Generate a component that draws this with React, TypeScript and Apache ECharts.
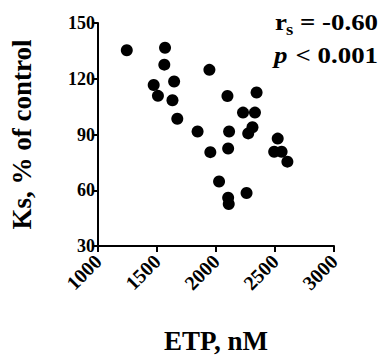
import React, { useEffect, useRef } from "react";
import * as echarts from "echarts";

const etp = [1244, 1568, 1562, 1944, 1472, 1645, 1508, 1631, 2097, 2344, 1672, 2229, 2330, 1844, 2111, 2309, 2273, 1952, 2103, 2523, 2493, 2556, 2605, 2026, 2259, 2103, 2108];
const ks = [135.3, 136.7, 127.6, 124.8, 116.6, 118.5, 110.8, 108.4, 110.7, 112.6, 98.5, 101.8, 101.8, 91.6, 91.6, 93.9, 90.6, 80.5, 82.5, 87.8, 80.7, 80.7, 75.4, 64.7, 58.5, 56.0, 52.6];
const xTicks = [1000, 1500, 2000, 2500, 3000];
const yTicks = [30, 60, 90, 120, 150];
const statR = "= -0.60";
const statP = "< 0.001";

const FONT = "'Liberation Serif', 'Times New Roman', serif";

export default function App() {
  const ref = useRef<HTMLDivElement>(null);
  useEffect(() => {
    if (!ref.current) return;
    const chart = echarts.init(ref.current, null, { renderer: "svg" });
    const axisCommon = {
      axisLine: { show: true, lineStyle: { color: "#000", width: 2 } },
      axisTick: { show: true, inside: false, length: 6, lineStyle: { color: "#000", width: 2 } },
      splitLine: { show: false },
      nameTextStyle: { fontFamily: FONT, fontWeight: "bold", fontSize: 27, color: "#000" },
    };
    chart.setOption({
      animation: false,
      grid: { left: 91, right: 49, top: 23, bottom: 93, containLabel: false },
      xAxis: {
        type: "value",
        min: xTicks[0],
        max: xTicks[xTicks.length - 1],
        interval: 500,
        name: "ETP, nM",
        nameLocation: "middle",
        nameGap: 81,
        ...axisCommon,
        axisLabel: {
          rotate: 45,
          margin: 12,
          formatter: (v: number) => String(v),
          fontFamily: FONT,
          fontWeight: "bold",
          fontSize: 20,
          color: "#000",
        },
      },
      yAxis: {
        type: "value",
        min: yTicks[0],
        max: yTicks[yTicks.length - 1],
        interval: 30,
        name: "Ks, % of control",
        nameLocation: "middle",
        nameGap: 63,
        ...axisCommon,
        axisLabel: {
          margin: 3,
          fontFamily: FONT,
          fontWeight: "bold",
          fontSize: 18,
          color: "#000",
        },
      },
      series: [
        {
          type: "scatter",
          symbol: "circle",
          symbolSize: 12,
          itemStyle: { color: "#000", opacity: 1 },
          data: etp.map((x, i) => [x, ks[i]]),
        },
      ],
      graphic: [
        { type: "text", x: 275, y: 22, scaleX: 1.12, style: { text: "r", font: `bold 24px ${FONT}`, fill: "#000", textAlign: "left", verticalAlign: "middle" } },
        { type: "text", x: 286, y: 29, scaleX: 1.1, style: { text: "s", font: `bold 17px ${FONT}`, fill: "#000", textAlign: "left", verticalAlign: "middle" } },
        { type: "text", x: 378, y: 22, scaleX: 1.12, style: { text: statR, font: `bold 24px ${FONT}`, fill: "#000", textAlign: "right", verticalAlign: "middle" } },
        { type: "text", x: 274, y: 55, scaleX: 1.12, style: { text: "p", font: `italic bold 24px ${FONT}`, fill: "#000", textAlign: "left", verticalAlign: "middle" } },
        { type: "text", x: 378, y: 55, scaleX: 1.12, style: { text: statP, font: `bold 24px ${FONT}`, fill: "#000", textAlign: "right", verticalAlign: "middle" } },
      ],
    });
    return () => chart.dispose();
  }, []);
  return <div ref={ref} style={{ width: 383, height: 359, position: "absolute", left: 0, top: 0 }} />;
}
